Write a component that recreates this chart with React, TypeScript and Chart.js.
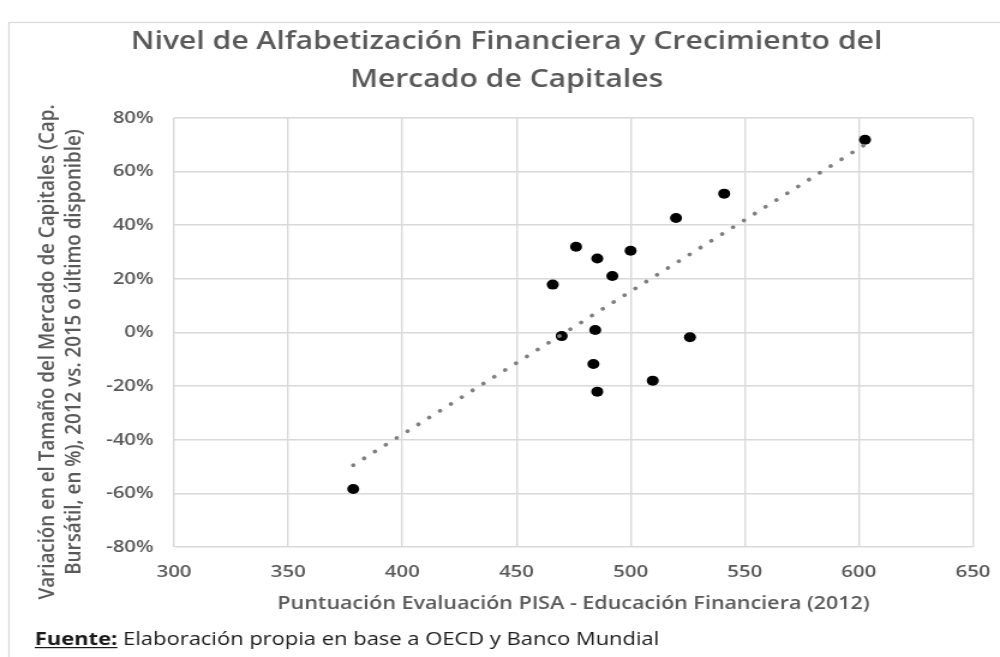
import React, { useEffect, useRef } from "react";
import { Chart, registerables } from "chart.js";

Chart.register(...registerables);

// Data
const pisaScores = [378.5, 465.9, 469.8, 476.1, 483.7, 484.5, 485.4, 485.4, 492.0, 500.0, 509.7, 519.9, 526.0, 541.0, 602.7];
const capChange = [-58.4, 17.8, -1.4, 31.9, -11.8, 0.9, 27.5, -22.1, 21.0, 30.4, -18.0, 42.6, -1.8, 51.7, 71.8];
const trendX = [378.5, 602.7];
const trendY = [-49.5, 70.0];

const titleLines = ["Nivel de Alfabetización Financiera y Crecimiento del", "Mercado de Capitales"];
const yTitleLines = [
  "Variación en el Tamaño del Mercado de Capitales (Cap.",
  "Bursátil, en %), 2012 vs. 2015 o último disponible)",
];
const xTitle = "Puntuación Evaluación PISA - Educación Financiera (2012)";
const sourceLabel = "Fuente:";
const sourceText = " Elaboración propia en base a OECD y Banco Mundial";

// The reference picture is stretched horizontally; the canvas is drawn narrower and widened by CSS.
const OUT_W = 1000;
const OUT_H = 657;
const STRETCH = 1.2;
const W = Math.round(OUT_W / STRETCH);
const H = OUT_H;

const FONT = "'Open Sans', 'Noto Sans', sans-serif";
const GRID = "#d9d9d9";
const TEXT = "#595959";

const decorPlugin = {
  id: "decor",
  beforeDraw(chart: any) {
    const ctx = chart.ctx;
    ctx.save();
    ctx.fillStyle = "#ffffff";
    ctx.fillRect(0, 0, chart.width, chart.height);
    ctx.strokeStyle = GRID;
    ctx.lineWidth = 1.2;
    ctx.strokeRect(7.5, 22.5, chart.width + 20, chart.height + 20);
    ctx.restore();
  },
  afterDraw(chart: any) {
    const ctx = chart.ctx;
    ctx.save();
    // y axis title (two lines, rotated)
    ctx.fillStyle = TEXT;
    ctx.font = `600 18.8px ${FONT}`;
    ctx.textAlign = "center";
    ctx.textBaseline = "middle";
    const cy = 352;
    const xs = [39.5, 61.5];
    yTitleLines.forEach((line, i) => {
      ctx.save();
      ctx.translate(xs[i], cy);
      ctx.rotate(-Math.PI / 2);
      ctx.fillText(line, 0, 0);
      ctx.restore();
    });
    // footer
    ctx.fillStyle = "#1a1a1a";
    ctx.textAlign = "left";
    ctx.textBaseline = "alphabetic";
    const fx = 29;
    const fy = 645;
    ctx.font = `bold 18.3px ${FONT}`;
    ctx.fillText(sourceLabel, fx, fy);
    const w = ctx.measureText(sourceLabel).width;
    ctx.fillRect(fx, fy + 2, w, 1.2);
    ctx.font = `18.3px ${FONT}`;
    ctx.fillText(sourceText, fx + w, fy);
    ctx.restore();
  },
};

export default function App() {
  const ref = useRef<HTMLCanvasElement | null>(null);
  useEffect(() => {
    if (!ref.current) return;
    const chart = new Chart(ref.current, {
      type: "scatter",
      data: {
        datasets: [
          {
            label: "Tendencia",
            data: trendX.map((x, i) => ({ x, y: trendY[i] })),
            showLine: true,
            borderColor: "#7f7f7f",
            borderWidth: 3.8,
            borderDash: [0.01, 11.3],
            borderCapStyle: "round",
            pointRadius: 0,
            fill: false,
          } as any,
          {
            label: "Países",
            data: pisaScores.map((x, i) => ({ x, y: capChange[i] })),
            backgroundColor: "#000000",
            borderColor: "#000000",
            borderWidth: 0,
            pointRadius: 5,
          },
        ],
      },
      options: {
        responsive: false,
        animation: false,
        devicePixelRatio: 1,
        events: [],
        layout: { padding: { left: 33.5, top: 22, right: 22.5, bottom: 0 } },
        plugins: {
          legend: { display: false },
          tooltip: { enabled: false },
          title: {
            display: true,
            text: titleLines,
            color: TEXT,
            font: { family: FONT, size: 25.1, lineHeight: 1.53, weight: "600" },
            padding: { top: 0.5, bottom: 18.4 },
          },
        },
        scales: {
          x: {
            type: "linear",
            min: 300,
            max: 650,
            ticks: { stepSize: 50, color: TEXT, font: { family: FONT, size: 17, weight: "600" }, padding: 0 },
            grid: { color: GRID, lineWidth: 1.4, drawTicks: true, tickLength: 15, tickColor: "rgba(0,0,0,0)" },
            border: { display: false },
            title: {
              display: true,
              text: xTitle,
              color: TEXT,
              font: { family: FONT, size: 17.9, weight: "600" },
              padding: { top: 0, bottom: 42 },
            },
            afterFit: (scale: any) => {
              scale.height = 110;
            },
          },
          y: {
            type: "linear",
            min: -80,
            max: 80,
            ticks: {
              stepSize: 20,
              color: TEXT,
              font: { family: FONT, size: 17, weight: "600" },
              padding: 17,
              callback: (v: any) => `${v}%`,
            },
            grid: { color: GRID, lineWidth: 1.6, drawTicks: false },
            border: { display: false },
            afterFit: (scale: any) => {
              scale.width = 111.5;
            },
          },
        },
      },
      plugins: [decorPlugin],
    });
    return () => chart.destroy();
  }, []);
  return (
    <canvas
      ref={ref}
      width={W}
      height={H}
      style={{ position: "absolute", left: 0, top: 0, display: "block", width: `${OUT_W}px`, height: `${OUT_H}px` }}
    />
  );
}
